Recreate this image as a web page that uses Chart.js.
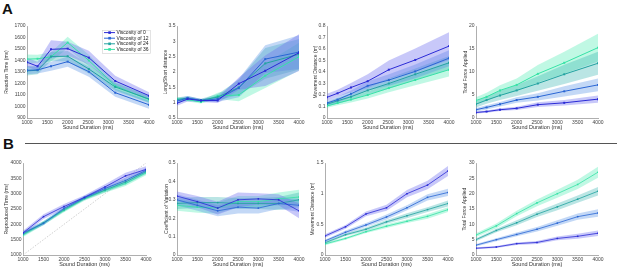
<!DOCTYPE html>
<html><head><meta charset="utf-8">
<script src="https://cdn.jsdelivr.net/npm/chart.js@4.4.1/dist/chart.umd.min.js"></script>
<style>
html,body{margin:0;padding:0;background:#fff;width:617px;height:268px;overflow:hidden;position:relative;font-family:"Liberation Sans",Arial,sans-serif}
canvas{position:absolute}
.lbl{position:absolute;font-weight:bold;font-size:15px;color:#111;line-height:17px}
#rule{position:absolute;left:25px;top:143px;width:592px;height:1px;background:#555}
</style></head><body>
<div class="lbl" style="left:2px;top:0px">A</div>
<div class="lbl" style="left:3px;top:135px">B</div>
<div id="rule"></div>
<script>
// ---------- data ----------
const seriesNames = ['Viscosity of 0','Viscosity of 12','Viscosity of 24','Viscosity of 36'];
const durationsA = [1000,1260,1590,2000,2520,3170,4000];
const durationsB = [1000,1500,2000,2500,3000,3500,4000];
const xTickValues = [1000,1500,2000,2500,3000,3500,4000];

// Panel A
const reactionTime = [
  [1385,1350,1497,1503,1425,1222,1094],
  [1315,1318,1350,1390,1303,1120,1015],
  [1310,1315,1435,1437,1326,1170,1065],
  [1412,1415,1432,1556,1400,1180,1060]];
const reactionTimeErr = [
  [40,40,80,60,60,45,30],
  [35,30,40,45,45,35,35],
  [40,35,40,45,40,35,30],
  [40,35,40,50,50,35,30]];
const longShort = [
  [0.98,1.12,1.07,1.07,1.62,2.04,2.63],
  [1.05,1.15,1.07,1.12,1.48,2.42,2.65],
  [1.10,1.15,1.08,1.18,1.50,2.28,2.58],
  [1.12,1.10,1.02,1.22,1.25,1.88,2.50]];
const longShortErr = [
  [0.08,0.08,0.05,0.08,0.20,0.50,0.60],
  [0.08,0.07,0.05,0.10,0.30,0.45,0.55],
  [0.07,0.07,0.05,0.10,0.25,0.50,0.50],
  [0.06,0.06,0.05,0.10,0.20,0.40,0.45]];
const moveDistA = [
  [0.18,0.215,0.265,0.32,0.42,0.505,0.625],
  [0.13,0.16,0.21,0.28,0.33,0.405,0.52],
  [0.12,0.15,0.185,0.24,0.30,0.38,0.48],
  [0.105,0.13,0.16,0.20,0.26,0.33,0.42]];
const moveDistAErr = [
  [0.03,0.03,0.04,0.06,0.08,0.10,0.12],
  [0.02,0.025,0.03,0.04,0.05,0.06,0.07],
  [0.02,0.025,0.03,0.035,0.045,0.05,0.06],
  [0.015,0.02,0.025,0.03,0.035,0.045,0.06]];
const forceA = [
  [1.2,1.4,1.8,2.1,2.9,3.3,4.1],
  [1.8,2.3,3.0,3.9,4.6,5.8,7.2],
  [3.0,3.9,4.9,6.0,7.5,9.5,11.9],
  [3.8,4.6,6.0,7.2,9.6,12.0,15.3]];
const forceAErr = [
  [0.2,0.25,0.3,0.35,0.5,0.6,0.8],
  [0.4,0.45,0.5,0.6,0.8,1.1,1.4],
  [0.7,0.8,1.0,1.2,1.6,2.1,2.5],
  [0.7,0.9,1.1,1.4,1.9,2.4,3.0]];

// Panel B
const reproduced = [
  [1720,2250,2580,2880,3220,3580,3790],
  [1720,2030,2520,2870,3170,3430,3760],
  [1680,2050,2480,2850,3120,3380,3720],
  [1650,2040,2450,2830,3100,3330,3680]];
const reproducedErr = [
  [70,80,80,70,90,100,100],
  [60,60,60,60,70,80,80],
  [60,60,60,60,70,80,80],
  [60,60,60,60,70,80,80]];
const identityLine = [1000,4000];
const coefVar = [
  [0.32,0.29,0.255,0.30,0.305,0.30,0.24],
  [0.30,0.27,0.24,0.26,0.255,0.28,0.27],
  [0.28,0.285,0.285,0.28,0.28,0.28,0.30],
  [0.27,0.26,0.255,0.29,0.29,0.305,0.315]];
const coefVarErr = [
  [0.025,0.03,0.035,0.04,0.03,0.03,0.04],
  [0.03,0.03,0.03,0.035,0.03,0.03,0.035],
  [0.03,0.03,0.03,0.03,0.03,0.035,0.04],
  [0.03,0.03,0.03,0.03,0.03,0.035,0.04]];
const moveDistB = [
  [0.31,0.46,0.67,0.77,1.00,1.14,1.37],
  [0.23,0.37,0.49,0.62,0.77,0.94,1.02],
  [0.20,0.33,0.42,0.54,0.64,0.74,0.84],
  [0.18,0.27,0.38,0.47,0.55,0.63,0.74]];
const moveDistBErr = [
  [0.03,0.03,0.04,0.05,0.06,0.07,0.08],
  [0.02,0.03,0.03,0.04,0.04,0.05,0.06],
  [0.02,0.02,0.03,0.03,0.04,0.04,0.05],
  [0.02,0.02,0.02,0.03,0.03,0.04,0.04]];
const forceB = [
  [2.2,2.6,3.7,4.1,5.4,6.1,7.1],
  [3.2,5.0,6.7,8.4,10.4,12.5,13.7],
  [5.0,8.0,10.5,13.3,15.7,18.2,20.8],
  [6.5,9.5,13.5,17.0,20.0,23.0,27.0]];
const forceBErr = [
  [0.3,0.3,0.4,0.5,0.6,0.8,0.9],
  [0.4,0.5,0.6,0.7,0.9,1.0,1.2],
  [0.5,0.6,0.8,0.9,1.1,1.2,1.4],
  [0.6,0.8,0.9,1.1,1.3,1.5,1.8]];

// y tick values
const yTicksRT = [900,1000,1100,1200,1300,1400,1500,1600,1700];
const yTicksLS = [0.5,1,1.5,2,2.5,3,3.5];
const yTicksMDA = [0,0.1,0.2,0.3,0.4,0.5,0.6,0.7,0.8];
const yTicksFA = [0,5,10,15,20];
const yTicksRep = [1000,1500,2000,2500,3000,3500,4000];
const yTicksCV = [0,0.1,0.2,0.3,0.4,0.5];
const yTicksMDB = [0,0.5,1,1.5];
const yTicksFB = [0,5,10,15,20,25,30];

// ---------- styling ----------
const lineColors = ['#2b2bd6','#2a66d4','#22a3a0','#36e2a6'];
const bandColors = ['rgba(110,110,238,0.38)','rgba(80,140,228,0.34)','rgba(40,175,170,0.32)','rgba(70,235,175,0.34)'];
const FONT = '"Liberation Sans", Arial, sans-serif';

const legendPlugin = {
  id: 'miniLegend',
  afterDraw(chart) {
    const ca = chart.chartArea, ctx = chart.ctx;
    const x0 = ca.left + 75, y0 = ca.top + 4, w = 48, h = 23;
    ctx.save();
    ctx.fillStyle = '#fff';
    ctx.fillRect(x0, y0, w, h);
    ctx.strokeStyle = '#d0d0d0'; ctx.lineWidth = 0.6;
    ctx.strokeRect(x0 + 0.5, y0 + 0.5, w, h);
    ctx.font = '5px ' + FONT;
    ctx.textBaseline = 'middle';
    seriesNames.forEach((n, i) => {
      const y = y0 + 2.6 + i * 5.6;
      ctx.strokeStyle = lineColors[i]; ctx.lineWidth = 1;
      ctx.beginPath(); ctx.moveTo(x0 + 2, y); ctx.lineTo(x0 + 13, y); ctx.stroke();
      ctx.fillStyle = lineColors[i];
      ctx.fillRect(x0 + 6.3, y - 1.3, 2.6, 2.6);
      ctx.fillStyle = '#222';
      ctx.fillText(n, x0 + 14.5, y + 0.3);
    });
    ctx.restore();
  }
};

function makeChart(o) {
  const W = o.W, H = 14, PT = 5, PR = 8;
  const cw = W + (o.r - o.l) + PR, ch = PT + (o.b - o.t) + H;
  const cv = document.createElement('canvas');
  cv.width = cw; cv.height = ch;
  cv.style.left = (o.l - W) + 'px'; cv.style.top = (o.t - PT) + 'px';
  cv.style.width = cw + 'px'; cv.style.height = ch + 'px';
  document.body.appendChild(cv);
  const ds = [];
  o.means.forEach((m, i) => {
    ds.push({data: o.xs.map((x, j) => ({x, y: m[j]})), borderColor: lineColors[i], backgroundColor: lineColors[i],
      pointBackgroundColor: lineColors[i], borderWidth: o.lw, pointStyle: 'rect', pointRadius: o.pr,
      pointBorderWidth: 0, fill: false, tension: 0});
  });
  o.means.forEach((m, i) => {
    const e = o.errs[i];
    ds.push({data: o.xs.map((x, j) => ({x, y: m[j] - e[j]})), borderWidth: 0, pointRadius: 0, fill: false,
      borderColor: 'rgba(0,0,0,0)'});
    ds.push({data: o.xs.map((x, j) => ({x, y: m[j] + e[j]})), borderWidth: 0, pointRadius: 0, fill: '-1',
      borderColor: 'rgba(0,0,0,0)', backgroundColor: bandColors[i]});
  });
  if (o.identity) {
    ds.push({data: o.identity.map(v => ({x: v, y: v})), borderColor: '#c4c4c4', borderWidth: 0.8,
      borderDash: [1.5, 1.5], pointRadius: 0, fill: false});
  }
  const tickFont = {size: 5, family: FONT};
  new Chart(cv, {
    type: 'line',
    data: {datasets: ds},
    plugins: o.legend ? [legendPlugin] : [],
    options: {
      responsive: false, animation: false, events: [],
      layout: {padding: {top: PT, right: PR, left: 0, bottom: 0}},
      plugins: {legend: {display: false}, tooltip: {enabled: false}},
      scales: {
        x: {
          type: 'linear', min: 1000, max: 4000,
          afterBuildTicks: s => { s.ticks = xTickValues.map(v => ({value: v})); },
          afterFit: s => { s.height = H; },
          ticks: {font: tickFont, color: '#444', padding: 2, maxRotation: 0, autoSkip: false, callback: v => String(v)},
          grid: {display: false, drawTicks: false},
          border: {display: true, color: '#9a9a9a', width: 0.8},
          title: {display: true, text: 'Sound Duration (ms)', font: {size: 5.5, family: FONT}, color: '#333', padding: {top: 0, bottom: 1}}
        },
        y: {
          type: 'linear', min: o.yTicks[0], max: o.yTicks[o.yTicks.length - 1],
          afterBuildTicks: s => { s.ticks = o.yTicks.map(v => ({value: v})); },
          afterFit: s => { s.width = W; },
          ticks: {font: tickFont, color: '#444', padding: 1.5, autoSkip: false, callback: v => String(v)},
          grid: {display: false, drawTicks: false},
          border: {display: true, color: '#9a9a9a', width: 0.8},
          title: {display: true, text: o.yTitle, font: {size: 5, family: FONT}, color: '#333', padding: {top: 0.5, bottom: 0}}
        }
      }
    }
  });
}

const A = {xs: durationsA, lw: 1, pr: 1.4};
const B = {xs: durationsB, lw: 0.8, pr: 1.1};
makeChart(Object.assign({}, A, {l: 27, t: 26, r: 149, b: 118, W: 24, means: reactionTime, errs: reactionTimeErr, yTicks: yTicksRT, yTitle: 'Reaction Time (ms)', legend: true}));
makeChart(Object.assign({}, A, {l: 177, t: 26, r: 299, b: 118, W: 15, means: longShort, errs: longShortErr, yTicks: yTicksLS, yTitle: 'Long/Short distance'}));
makeChart(Object.assign({}, A, {l: 327, t: 26, r: 449, b: 118, W: 15, means: moveDistA, errs: moveDistAErr, yTicks: yTicksMDA, yTitle: 'Movement Distance (m)'}));
makeChart(Object.assign({}, A, {l: 476, t: 26, r: 598, b: 118, W: 14, means: forceA, errs: forceAErr, yTicks: yTicksFA, yTitle: 'Total Force Applied'}));
makeChart(Object.assign({}, B, {l: 23, t: 163, r: 146, b: 255, W: 20, means: reproduced, errs: reproducedErr, yTicks: yTicksRep, yTitle: 'Reproduced Time (ms)', identity: identityLine}));
makeChart(Object.assign({}, B, {l: 177, t: 163, r: 299, b: 255, W: 14, means: coefVar, errs: coefVarErr, yTicks: yTicksCV, yTitle: 'Coefficient of Variation'}));
makeChart(Object.assign({}, B, {l: 325, t: 163, r: 448, b: 255, W: 16, means: moveDistB, errs: moveDistBErr, yTicks: yTicksMDB, yTitle: 'Movement Distance (m)'}));
makeChart(Object.assign({}, B, {l: 476, t: 163, r: 598, b: 255, W: 15, means: forceB, errs: forceBErr, yTicks: yTicksFB, yTitle: 'Total Force Applied'}));
</script>
</body></html>
